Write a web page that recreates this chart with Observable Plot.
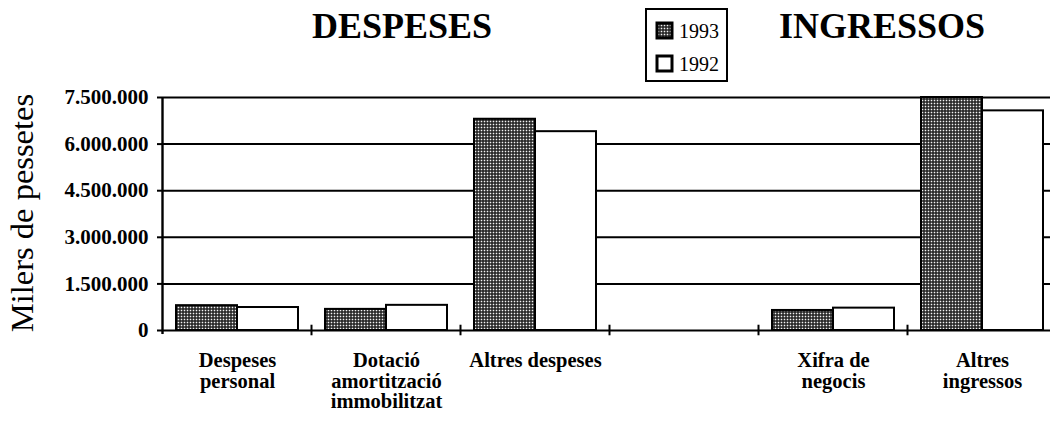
<!DOCTYPE html>
<html>
<head>
<meta charset="utf-8">
<script src="https://cdn.jsdelivr.net/npm/d3@7"></script>
<script src="https://cdn.jsdelivr.net/npm/@observablehq/plot@0.6"></script>
<style>
  html, body { margin: 0; padding: 0; background: #fff; }
  #chart svg { display: block; }
  #chart svg text { font-family: "Liberation Serif", "Times New Roman", serif; }
</style>
</head>
<body>
<div id="chart"></div>
<script>
// ---- data ----
const categories = ["Despeses personal", "Dotació amortització immobilitzat", "Altres despeses", "", "Xifra de negocis", "Altres ingressos"];
const tickLabels = ["Despeses\npersonal", "Dotació\namortització\nimmobilitzat", "Altres despeses", "", "Xifra de\nnegocis", "Altres\ningressos"];
const series = ["1993", "1992"];
const values1993 = [800000, 680000, 6800000, null, 645000, 7500000];
const values1992 = [740000, 810000, 6400000, null, 720000, 7070000];
const yTicks = [0, 1500000, 3000000, 4500000, 6000000, 7500000];
const titles = ["DESPESES", "INGRESSOS"];
const axisTitle = "Milers de pessetes";

const rows1993 = categories.map((c, i) => ({cat: c, v: values1993[i]})).filter(d => d.v != null);
const rows1992 = categories.map((c, i) => ({cat: c, v: values1992[i]})).filter(d => d.v != null);

const serif = '"Liberation Serif", "Times New Roman", serif';
const fmt = d => d3.format(",")(d).replace(/,/g, ".");
const BAND_OFF = -75; // boundary between groups, relative to band centre

const svg = Plot.plot({
  width: 1050,
  height: 426,
  marginLeft: 162,
  marginRight: 0,
  marginTop: 97,
  marginBottom: 96,
  x: {domain: categories, range: [176, 1044], paddingInner: 0.182, paddingOuter: 0, align: 0},
  y: {domain: [0, 7500000]},
  marks: [
    Plot.ruleY(yTicks, {stroke: "black", strokeWidth: 2}),
    // y axis line and boundary ticks between category groups
    Plot.ruleX([categories[0]], {x: d => d, dx: BAND_OFF, y1: 7500000, y2: -130000, stroke: "black", strokeWidth: 2.4}),
    Plot.ruleX(categories.slice(1), {x: d => d, dx: BAND_OFF, y1: -170000, y2: 170000, stroke: "black", strokeWidth: 2}),
    Plot.barY(rows1993, {x: "cat", y: "v", fill: "#444444", stroke: "black", strokeWidth: 2, insetRight: 61}),
    Plot.barY(rows1992, {x: "cat", y: "v", fill: "white", stroke: "black", strokeWidth: 2, insetLeft: 61}),
    Plot.axisY({ticks: yTicks, tickFormat: fmt, tickSize: 5, tickPadding: 9, fontSize: 21, fontWeight: "bold", label: null, strokeWidth: 2}),
    Plot.axisX({tickSize: 0, tickPadding: 22, tickFormat: (d) => tickLabels[categories.indexOf(d)], fontSize: 20.5, fontWeight: "bold", lineHeight: 1.0, label: null})
  ]
});

const s = d3.select(svg);
s.attr("font-family", serif).style("font-family", serif).style("color", "black");
const defs = s.insert("defs", ":first-child");
const pat = defs.append("pattern").attr("id", "dots").attr("patternUnits", "userSpaceOnUse")
  .attr("width", 3).attr("height", 3);
pat.append("rect").attr("width", 3).attr("height", 3).attr("fill", "#1a1a1a");
pat.append("rect").attr("x", 0.7).attr("y", 0.7).attr("width", 1.6).attr("height", 1.6).attr("fill", "#f4f4f4");

s.selectAll('[fill="#444444"]').attr("fill", "url(#dots)");

// titles
s.append("text").attr("x", 402).attr("y", 38).attr("text-anchor", "middle")
  .attr("font-size", 36).attr("font-weight", "bold").text(titles[0]);
s.append("text").attr("x", 882).attr("y", 38).attr("text-anchor", "middle")
  .attr("font-size", 36).attr("font-weight", "bold").text(titles[1]);

// y axis title
s.append("text").attr("transform", "translate(33,213) rotate(-90)").attr("text-anchor", "middle")
  .attr("font-size", 32.5).text(axisTitle);

// legend
const lg = s.append("g");
lg.append("rect").attr("x", 646).attr("y", 9).attr("width", 81).attr("height", 72)
  .attr("fill", "white").attr("stroke", "black").attr("stroke-width", 2);
const swY = [22, 55];
const swFill = ["url(#dots)", "white"];
series.forEach((name, i) => {
  lg.append("rect").attr("x", 657).attr("y", swY[i] + 1).attr("width", 15).attr("height", 15)
    .attr("fill", swFill[i]).attr("stroke", "black").attr("stroke-width", 3);
  lg.append("text").attr("x", 679).attr("y", swY[i] + 16).attr("text-anchor", "start")
    .attr("font-size", 20).text(name);
});

s.selectAll("text").style("font-family", serif);

document.getElementById("chart").appendChild(svg);
</script>
</body>
</html>
